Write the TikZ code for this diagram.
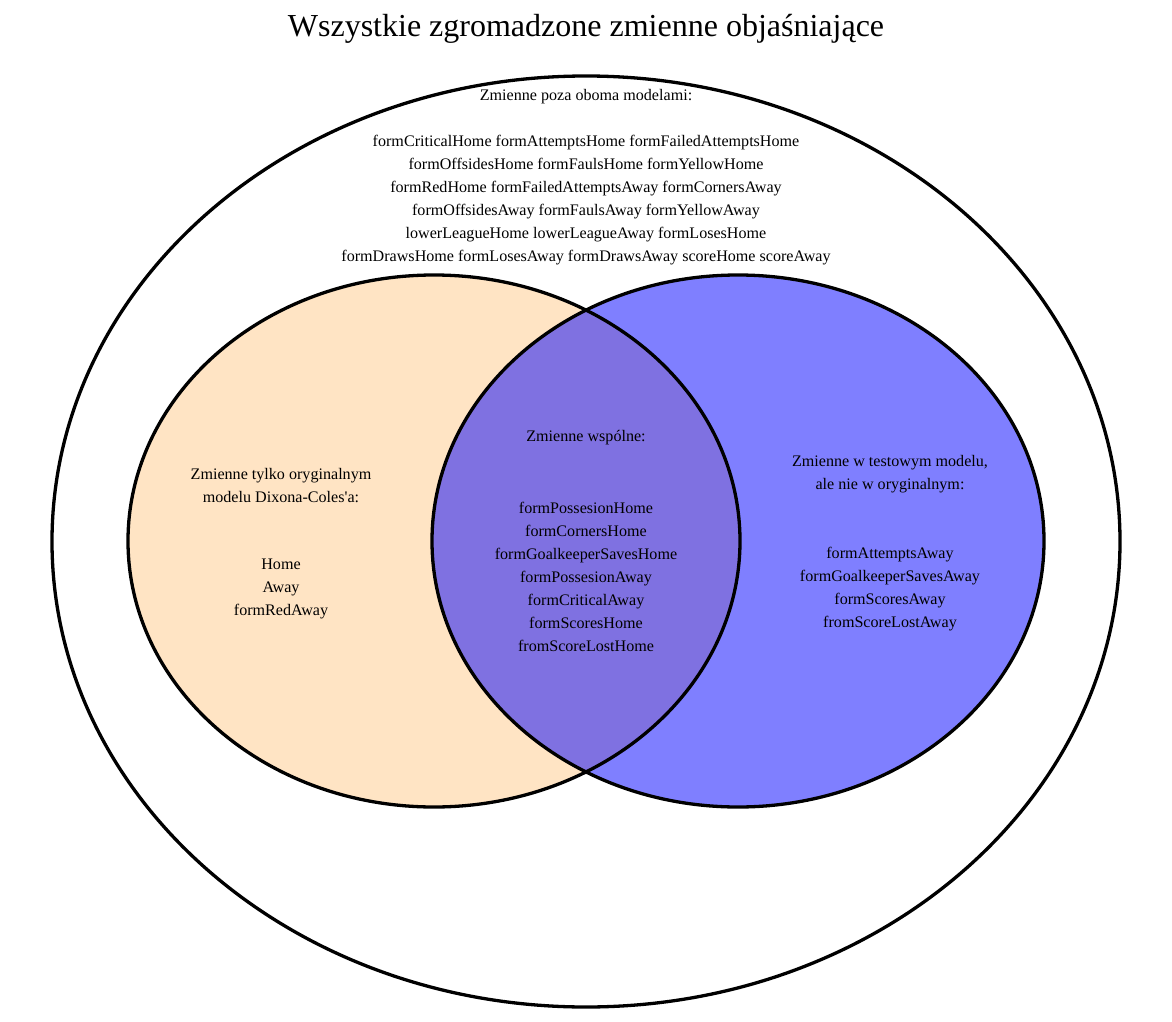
\documentclass[tikz,border=0pt]{standalone}
\usepackage{fontspec}
\setmainfont{Liberation Serif}
\newfontfamily\plainq{Liberation Serif}
\definecolor{bisq}{RGB}{255,228,196}
\begin{document}
\begin{tikzpicture}[x=1pt,y=-1pt,
  lbl/.style={inner sep=0pt,align=center,font=\fontsize{16.1}{23}\selectfont},
  venn/.style={line width=3.3pt}]
\useasboundingbox (0,0) rectangle (1172,1022);
\fill[bisq] (434,541) ellipse [x radius=306, y radius=266];
\fill[blue,opacity=0.5] (738,541) ellipse [x radius=306, y radius=266];
\draw[venn] (586,541.5) ellipse [x radius=534, y radius=465.5];
\draw[venn] (434,541) ellipse [x radius=306, y radius=266];
\draw[venn] (738,541) ellipse [x radius=306, y radius=266];
\node[inner sep=0pt,font=\fontsize{32}{38}\selectfont] (title) at (586,29) {Wszystkie zgromadzone zmienne objaśniające};
\node[lbl] (outh) at (586,97) {Zmienne poza oboma modelami:};
\node[lbl] (outv) at (586,200.5) {formCriticalHome formAttemptsHome formFailedAttemptsHome\\
formOffsidesHome formFaulsHome formYellowHome\\
formRedHome formFailedAttemptsAway formCornersAway\\
formOffsidesAway formFaulsAway formYellowAway\\
lowerLeagueHome lowerLeagueAway formLosesHome\\
formDrawsHome formLosesAway formDrawsAway scoreHome scoreAway};
\node[lbl] (lh) at (281,485.5) {Zmienne tylko oryginalnym\\modelu Dixona-Coles{\plainq'}a:};
\node[lbl] (lv) at (281,589) {Home\\Away\\formRedAway};
\node[lbl] (ch) at (586,438) {Zmienne wspólne:};
\node[lbl] (cv) at (586,577) {formPossesionHome\\formCornersHome\\formGoalkeeperSavesHome\\formPossesionAway\\formCriticalAway\\formScoresHome\\fromScoreLostHome};
\node[lbl] (rh) at (890,474.5) {Zmienne w testowym modelu,\\ale nie w oryginalnym:};
\node[lbl] (rv) at (890,589.5) {formAttemptsAway\\formGoalkeeperSavesAway\\formScoresAway\\fromScoreLostAway};
\end{tikzpicture}
\end{document}
